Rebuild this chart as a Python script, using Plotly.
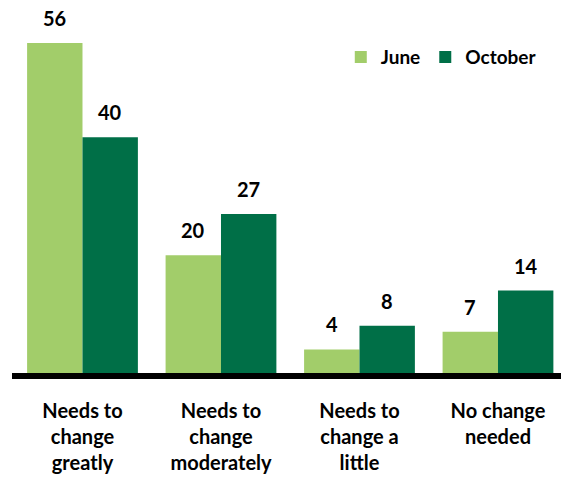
import plotly.graph_objects as go

categories = ["Needs to<br>change<br>greatly", "Needs to<br>change<br>moderately",
              "Needs to<br>change a<br>little", "No change<br>needed"]
june = [56, 20, 4, 7]
october = [40, 27, 8, 14]

JUNE_COLOR = "#A2CD6A"
OCT_COLOR = "#006F47"
FONT = "Lato"
WEIGHT = "bold"

fig = go.Figure()
fig.add_trace(go.Bar(name="June", x=categories, y=june, marker_color=JUNE_COLOR,
                     marker_line_width=0))
fig.add_trace(go.Bar(name="October", x=categories, y=october, marker_color=OCT_COLOR,
                     marker_line_width=0))

# value labels above each bar
for i, (a, b) in enumerate(zip(june, october)):
    for off, v in ((-0.2, a), (0.2, b)):
        fig.add_annotation(x=i + off, y=v, text=str(v), showarrow=False,
                           yanchor="bottom", yshift=11,
                           font=dict(family=FONT, size=20, color="black", weight=WEIGHT))

fig.update_layout(
    width=561, height=479,
    margin=dict(l=12, r=0, t=10, b=106),
    paper_bgcolor="white", plot_bgcolor="white",
    barmode="group", bargap=0.2, bargroupgap=0,
    font=dict(family=FONT, color="black"),
    legend=dict(orientation="h", x=0.965, xanchor="right", y=0.87, yanchor="middle",
                font=dict(family=FONT, size=19, color="black", weight=WEIGHT),
                itemwidth=30, tracegroupgap=0, bgcolor="rgba(0,0,0,0)"),
    showlegend=True,
)
fig.update_xaxes(range=[-0.509, 3.455], showline=True, linewidth=6, linecolor="black",
                 ticks="", tickfont=dict(family=FONT, size=20, color="black", weight=WEIGHT),
                 ticklabelstandoff=15, showgrid=False, zeroline=False)
fig.update_yaxes(range=[0, 56 * 363 / 330], visible=False, showgrid=False, zeroline=False)

fig.write_html("out.html")
